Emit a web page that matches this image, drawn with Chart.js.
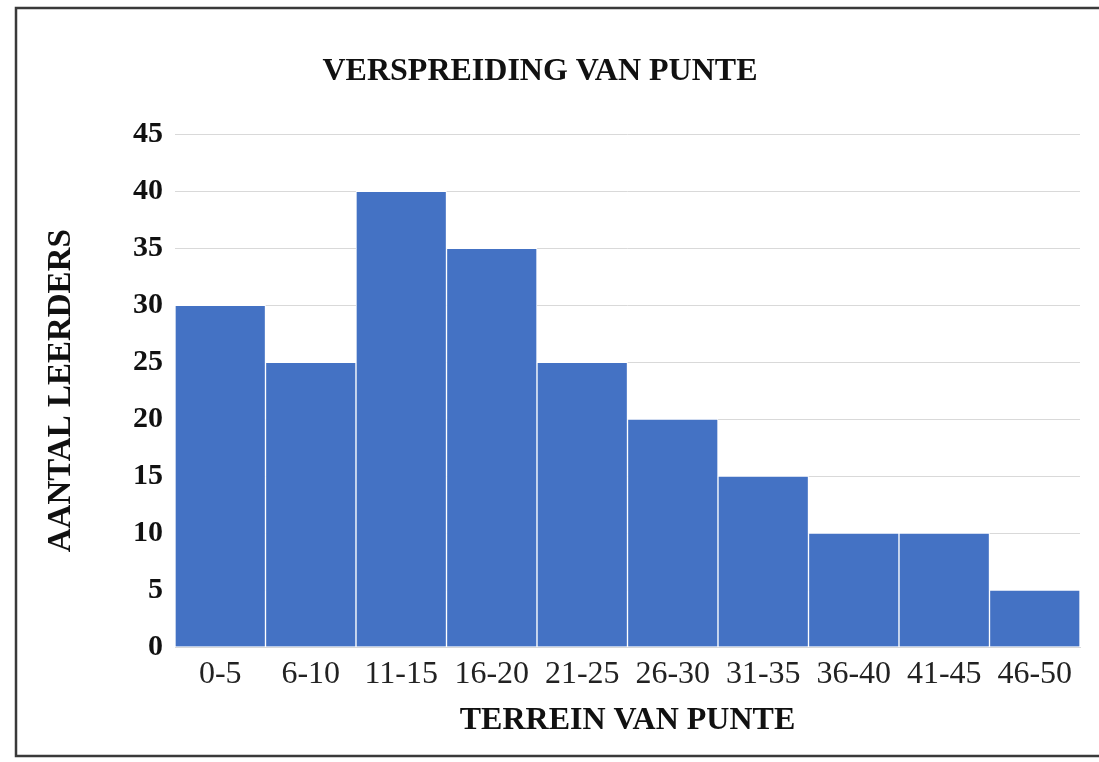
<!DOCTYPE html>
<html>
<head>
<meta charset="utf-8">
<script src="https://cdn.jsdelivr.net/npm/chart.js@4/dist/chart.umd.min.js"></script>
<style>
  body { margin: 0; background: #fff; }
  canvas { display: block; }
</style>
</head>
<body>
<canvas id="myChart" width="1099" height="762"></canvas>
<script>
const categories = ["0-5", "6-10", "11-15", "16-20", "21-25", "26-30", "31-35", "36-40", "41-45", "46-50"];
const leerders = [30, 25, 40, 35, 25, 20, 15, 10, 10, 5];
const yTicks = [0, 5, 10, 15, 20, 25, 30, 35, 40, 45];

const serif = '"Liberation Serif", "Times New Roman", serif';

// white page with the frame round it (left, top, bottom)
const frame = {
    id: 'frame',
    beforeDraw(chart) {
        const c = chart.ctx;
        c.save();
        c.fillStyle = '#fff';
        c.fillRect(0, 0, chart.width, chart.height);
        c.strokeStyle = '#3a3a3a';
        c.lineWidth = 2.5;
        c.beginPath();
        c.moveTo(chart.width + 5, 8);
        c.lineTo(16, 8);
        c.lineTo(16, 756);
        c.lineTo(chart.width + 5, 756);
        c.stroke();
        c.restore();
    }
};

var ctx = document.getElementById('myChart').getContext('2d');
var chart = new Chart(ctx, {
    type: 'bar',
    data: {
        labels: categories,
        datasets: [{
            label: 'Aantal leerders',
            data: leerders,
            backgroundColor: '#4472C4',
            borderColor: '#ffffff',
            borderWidth: 1,
            categoryPercentage: 1,
            barPercentage: 1
        }]
    },
    options: {
        responsive: false,
        animation: false,
        layout: { padding: { left: 0, right: 19, top: 0, bottom: 0 } },
        plugins: {
            legend: { display: false },
            tooltip: { enabled: false },
            title: {
                display: true,
                text: 'VERSPREIDING VAN PUNTE',
                color: '#111',
                font: { family: serif, size: 32, weight: 'bold' },
                padding: { top: 53, bottom: 43 }
            }
        },
        scales: {
            x: {
                grid: { display: false, drawTicks: false },
                border: { color: '#d9d9d9' },
                ticks: {
                    color: '#222',
                    font: { family: serif, size: 32 },
                    padding: 8,
                    maxRotation: 0,
                    autoSkip: false
                },
                title: {
                    display: true,
                    text: 'TERREIN VAN PUNTE',
                    color: '#111',
                    font: { family: serif, size: 32, weight: 'bold' },
                    padding: { top: 0, bottom: 22 }
                },
                afterFit(scale) { scale.height = 762 - 647; }
            },
            y: {
                min: 0,
                max: 45,
                grid: { color: '#d9d9d9', lineWidth: 1, drawTicks: false },
                border: { display: false },
                afterBuildTicks(scale) { scale.ticks = yTicks.map(v => ({ value: v })); },
                ticks: {
                    color: '#111',
                    font: { family: serif, size: 30, weight: 'bold' },
                    padding: 12
                },
                title: {
                    display: true,
                    text: 'AANTAL LEERDERS',
                    color: '#111',
                    font: { family: serif, size: 33, weight: 'bold' },
                    padding: { top: 42, bottom: 0 }
                },
                afterFit(scale) { scale.width = 175; }
            }
        }
    },
    plugins: [frame]
});
</script>
</body>
</html>
